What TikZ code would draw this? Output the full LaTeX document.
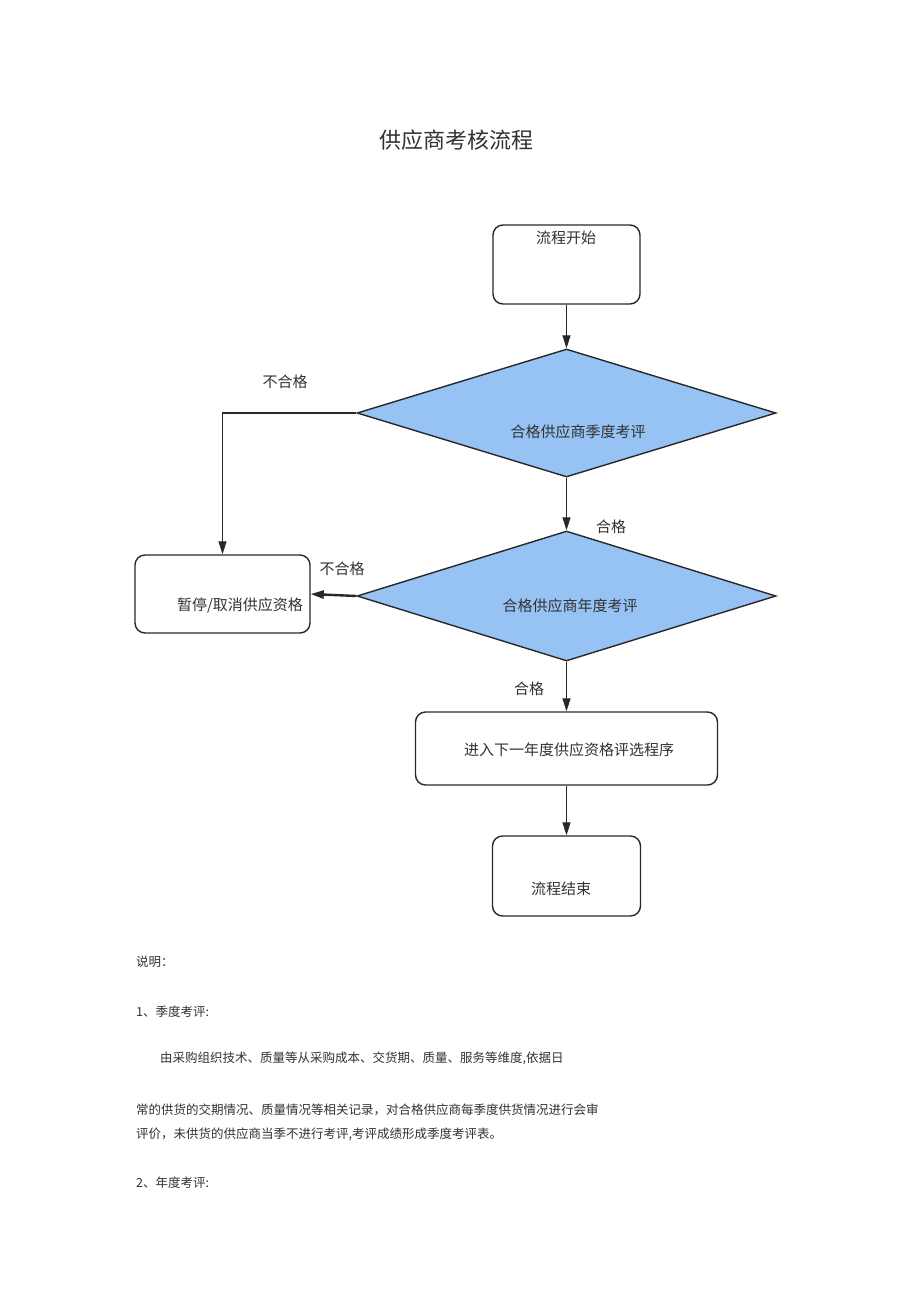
\documentclass[tikz,border=0pt]{standalone}
\usepackage{fontspec}
\setmainfont{Noto Sans CJK SC}
\newfontfamily\cjk{Noto Sans CJK SC}
\usetikzlibrary{shapes.geometric,arrows.meta}
\definecolor{linec}{RGB}{40,40,40}
\definecolor{textc}{RGB}{50,50,50}
\definecolor{dfill}{RGB}{150,195,243}
\begin{document}
\begin{tikzpicture}[x=1pt,y=-1pt,
  box/.style={draw=linec,line width=1.4pt,rounded corners=10pt,inner sep=0pt,fill=white},
  dia/.style={diamond,draw=linec,line width=1.4pt,fill=dfill,inner sep=0pt},
  txt/.style={text=textc,font=\cjk\fontsize{15}{18}\selectfont,inner sep=0pt},
  lbl/.style={text=textc,font=\cjk\fontsize{15}{18}\selectfont,inner sep=0pt},
  para/.style={text=textc,font=\cjk\fontsize{12.5}{15}\selectfont,inner sep=0pt,anchor=west},
  arr/.style={draw=linec,line width=1.2pt,-{Triangle[length=13pt,width=8pt]}},
  conn/.style={draw=linec,line width=1.2pt}]
\useasboundingbox (0,0) rectangle (920,1301);
\fill[white] (0,0) rectangle (920,1301);

\node[text=textc,font=\cjk\fontsize{22}{26}\selectfont,inner sep=0pt] (title) at (456,140) {供应商考核流程};

\node[box,minimum width=147pt,minimum height=79pt] (start) at (566.5,264.5) {};
\node[txt] (starttxt) at (566,238) {流程开始};

\node[dia,minimum width=419pt,minimum height=128pt] (d1) at (566.5,413) {};
\node[txt] (d1txt) at (578,432) {合格供应商季度考评};

\node[dia,minimum width=419pt,minimum height=130pt] (d2) at (566.5,596) {};
\node[txt] (d2txt) at (570,606) {合格供应商年度考评};

\node[box,minimum width=175pt,minimum height=78pt] (pause) at (222.5,594) {};
\node[txt] (pausetxt) at (240,605) {暂停/取消供应资格};

\node[box,minimum width=302pt,minimum height=73pt] (next) at (566.5,748.5) {};
\node[txt] (nexttxt) at (569,750) {进入下一年度供应资格评选程序};

\node[box,minimum width=148pt,minimum height=80pt] (end) at (566.5,876) {};
\node[txt] (endtxt) at (561,889) {流程结束};

\draw[arr] (start.south) -- (d1.north);
\draw[arr] (d1.west) -| (pause.north);
\draw[arr] (d1.south) -- (d2.north);
\draw[arr,line width=2.4pt] (d2.west) -- (pause.east);
\draw[arr] (d2.south) -- (next.north);
\draw[arr] (next.south) -- (end.north);

\node[lbl] (l1) at (285,382) {不合格};
\node[lbl] (l2) at (611,527) {合格};
\node[lbl] (l3) at (342,569) {不合格};
\node[lbl] (l4) at (529,689) {合格};

\node[para] (p0) at (136,962) {说明：};
\node[para] (p1) at (136,1012) {1、季度考评:};
\node[para] (p2) at (160,1058) {由采购组织技术、质量等从采购成本、交货期、质量、服务等维度,依据日};
\node[para] (p3) at (136,1110) {常的供货的交期情况、质量情况等相关记录，对合格供应商每季度供货情况进行会审};
\node[para] (p4) at (136,1134) {评价，未供货的供应商当季不进行考评,考评成绩形成季度考评表。};
\node[para] (p5) at (136,1183) {2、年度考评:};
\end{tikzpicture}
\end{document}
